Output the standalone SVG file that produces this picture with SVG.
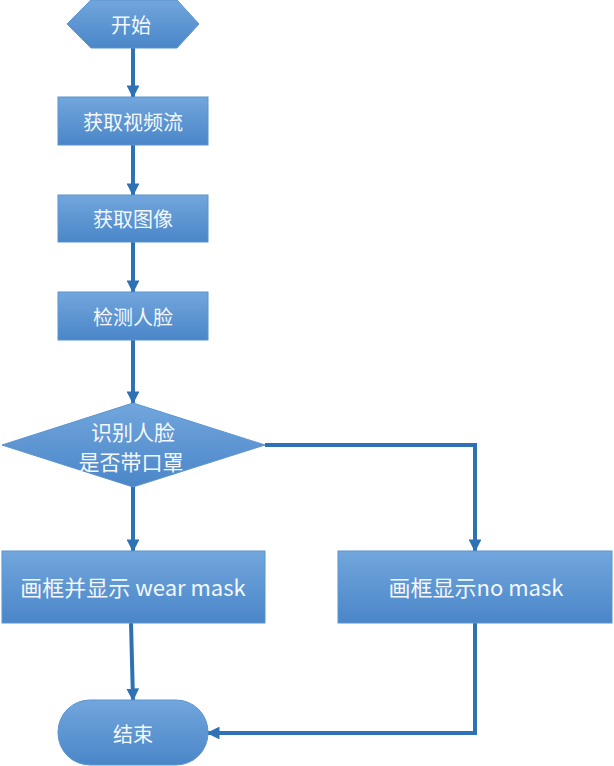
<svg xmlns="http://www.w3.org/2000/svg" width="614" height="766" viewBox="0 0 614 766">
<defs>
<linearGradient id="g" x1="0" y1="0" x2="0" y2="1">
<stop offset="0" stop-color="#72a6dd"/>
<stop offset="1" stop-color="#4a86c8"/>
</linearGradient>
<marker id="ah" viewBox="0 0 10 10" refX="9" refY="5" markerWidth="3.2" markerHeight="3.2" orient="auto" markerUnits="strokeWidth">
<path d="M0,0 L10,5 L0,10 Z" fill="#2e72b5"/>
</marker>
<style>
.n{fill:url(#g);stroke:#5b93cf;stroke-width:1}
.t{fill:#f4f8fc;font-family:"Noto Sans CJK SC","Liberation Sans",sans-serif;font-size:20px;text-anchor:middle;dominant-baseline:central}
.b{font-size:22px}
.d{font-size:21px}
.c{fill:none;stroke:#2e72b5;stroke-width:4;marker-end:url(#ah)}
</style>
</defs>
<rect width="614" height="766" fill="#fff"/>
<g id="connectors">
<path class="c" d="M133,48 V97"/>
<path class="c" d="M133,145 V195"/>
<path class="c" d="M133,242 V292"/>
<path class="c" d="M133,340 V403"/>
<path class="c" d="M133,487 V551"/>
<path class="c" d="M265,445 H475 V551"/>
<path class="c" d="M131,623 L133,700"/>
<path class="c" d="M475,623 V733 H208"/>
</g>
<g id="start">
<polygon class="n" points="67,24 91,0 177,0 199,24 177,48 91,48"/>
<text class="t" x="131" y="24">开始</text>
</g>
<g id="getStream">
<rect class="n" x="58" y="97" width="150" height="48"/>
<text class="t" x="133" y="121">获取视频流</text>
</g>
<g id="getImage">
<rect class="n" x="58" y="195" width="150" height="47"/>
<text class="t" x="133" y="218">获取图像</text>
</g>
<g id="detectFace">
<rect class="n" x="58" y="292" width="150" height="48"/>
<text class="t" x="133" y="316">检测人脸</text>
</g>
<g id="decision">
<polygon class="n" points="2,445 133,403 265,445 133,487"/>
<text class="t d" x="133" y="431">识别人脸</text>
<text class="t d" x="131" y="461">是否带口罩</text>
</g>
<g id="wearMask">
<rect class="n" x="2" y="551" width="263" height="72"/>
<text class="t b" x="133" y="586">画框并显示 wear mask</text>
</g>
<g id="noMask">
<rect class="n" x="338" y="551" width="274" height="72"/>
<text class="t b" x="476" y="586">画框显示no mask</text>
</g>
<g id="end">
<rect class="n" x="58" y="700" width="150" height="65" rx="32" ry="32"/>
<text class="t" x="133" y="733">结束</text>
</g>
</svg>
